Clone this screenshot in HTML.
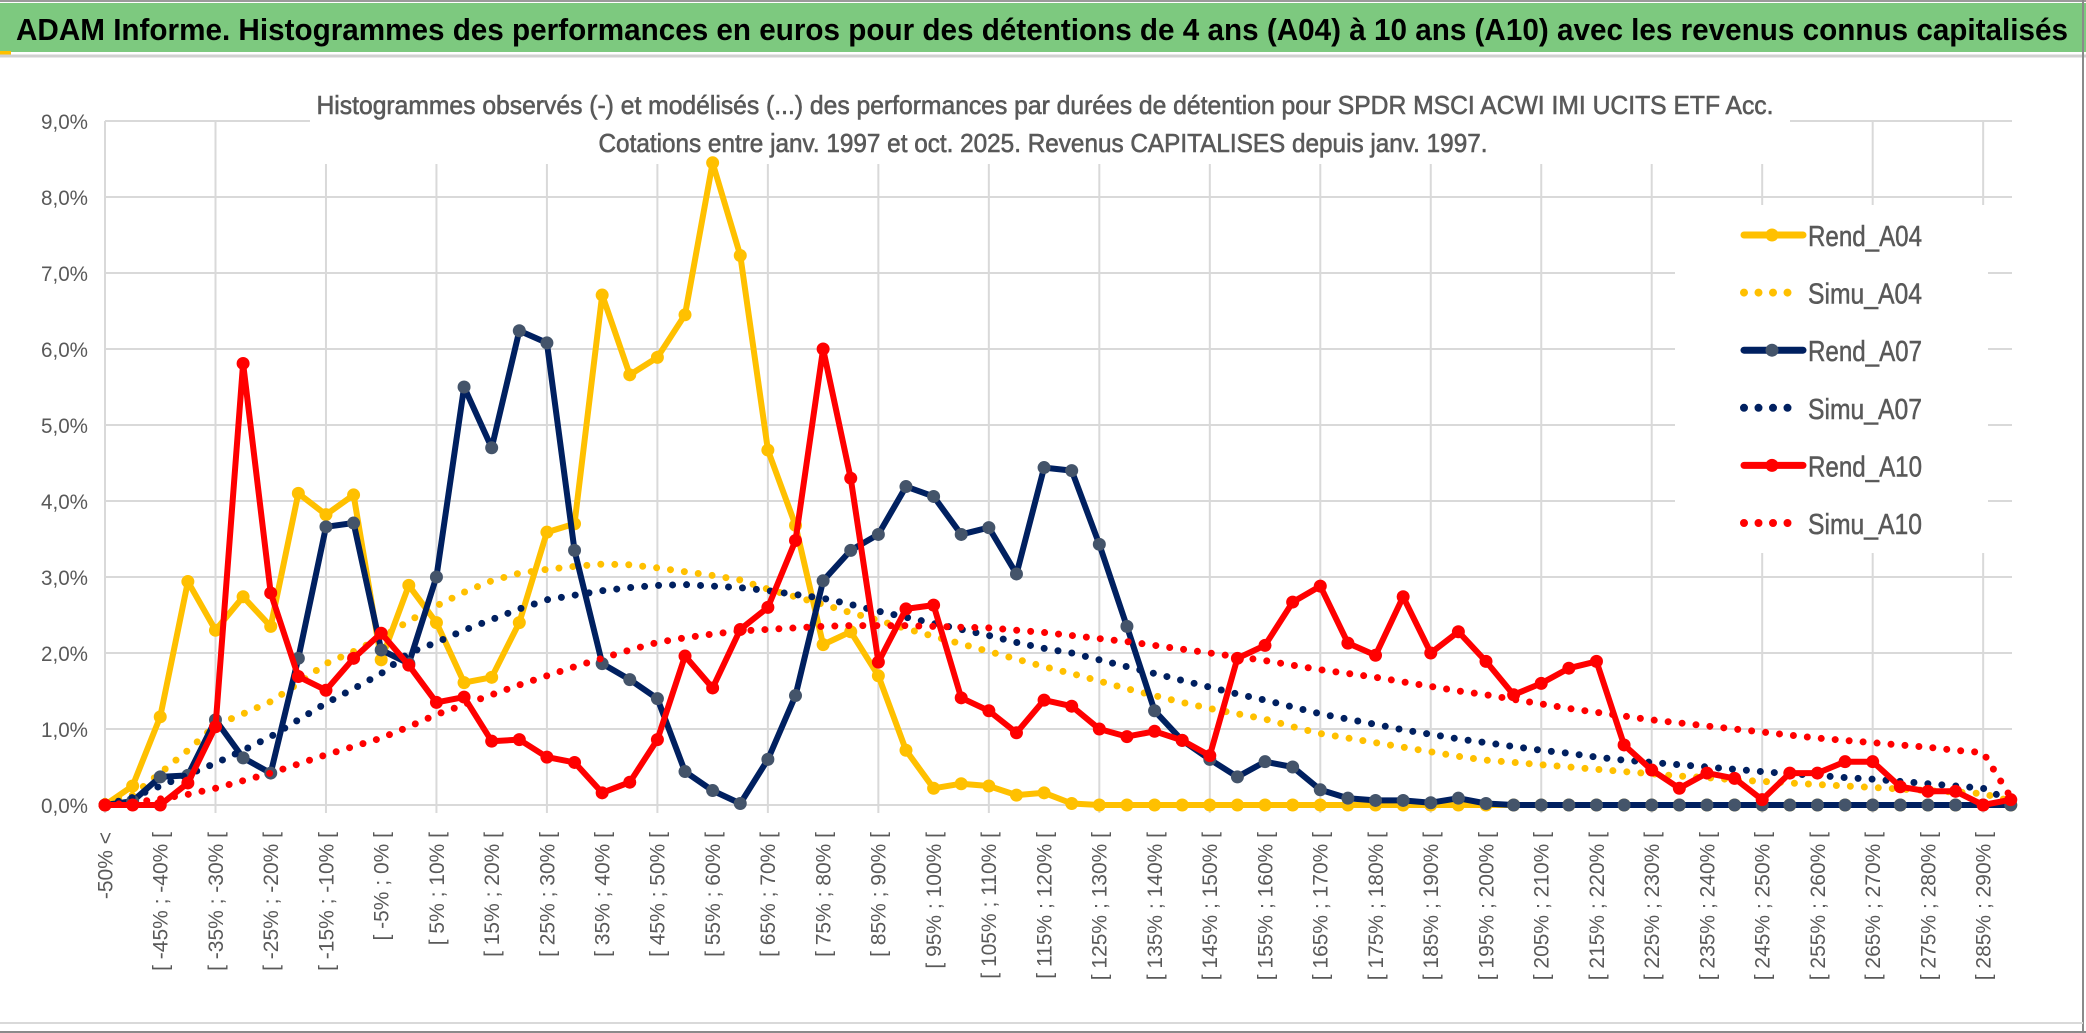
<!DOCTYPE html>
<html><head><meta charset="utf-8"><style>
html,body{margin:0;padding:0;background:#fff;}
svg{display:block;font-family:"Liberation Sans",sans-serif;}
</style></head><body>
<svg id="chart" width="2086" height="1033" viewBox="0 0 2086 1033" xmlns="http://www.w3.org/2000/svg">
  <rect x="0" y="0" width="2086" height="1033" fill="#fff"/>
  <line x1="0" y1="1" x2="2086" y2="1" stroke="#9a9a9a" stroke-width="2"/>
  <rect x="0" y="3" width="2086" height="49" fill="#7DC97F"/>
  <rect x="0" y="51" width="11" height="4" fill="#FFC000"/>
  <line x1="0" y1="56" x2="2086" y2="56" stroke="#d0d0d0" stroke-width="3"/>
  <text x="16" y="40" font-size="31" font-weight="bold" fill="#000" textLength="2052" lengthAdjust="spacingAndGlyphs">ADAM Informe. Histogrammes des performances en euros pour des détentions de 4 ans (A04) à 10 ans (A10) avec les revenus connus capitalisés</text>
  <line x1="2083" y1="0" x2="2083" y2="1033" stroke="#8a8a8a" stroke-width="2"/>
  <line x1="0" y1="1023" x2="2083" y2="1023" stroke="#d9d9d9" stroke-width="2"/>
  <line x1="0" y1="1032" x2="2086" y2="1032" stroke="#8a8a8a" stroke-width="2"/>
  <g id="grid"></g>
  <g id="yaxis"></g>
  <g id="xaxis"></g>
  <rect x="310" y="82" width="1480" height="82" fill="#fff"/>
  <text x="1045" y="114" font-size="26" fill="#595959" stroke="#595959" stroke-width="0.6" text-anchor="middle" textLength="1457" lengthAdjust="spacingAndGlyphs">Histogrammes observés (-) et modélisés (...) des performances par durées de détention pour SPDR MSCI ACWI IMI UCITS ETF Acc.</text>
  <text x="1043" y="152" font-size="26" fill="#595959" stroke="#595959" stroke-width="0.6" text-anchor="middle" textLength="889" lengthAdjust="spacingAndGlyphs">Cotations entre janv. 1997 et oct. 2025. Revenus CAPITALISES depuis janv. 1997.</text>
  <g id="series"></g>
  <g id="legend">
    <rect x="1675" y="205" width="313" height="348" fill="#fff"/>
  </g>
</svg>
<script>
const categories = ["-50% <"];
for (let k = 1; k < 70; k++) { categories.push("[ " + (-50 + 5 * (k - 1)) + "% ; " + (-45 + 5 * (k - 1)) + "% ["); }
const yTicks = [0,1,2,3,4,5,6,7,8,9];
const yTickLabels = ["0,0%","1,0%","2,0%","3,0%","4,0%","5,0%","6,0%","7,0%","8,0%","9,0%"];
const rendA04 = [0,0.25,1.16,2.94,2.30,2.74,2.35,4.10,3.82,4.08,1.91,2.89,2.40,1.61,1.68,2.40,3.59,3.70,6.71,5.66,5.89,6.45,8.45,7.23,4.67,3.68,2.11,2.28,1.70,0.72,0.22,0.28,0.25,0.13,0.16,0.02,0,0,0,0,0,0,0,0,0,0,0,0,0,0,0,0,0,0,0,0,0,0,0,0,0,0,0,0,0,0,0,0,0,0];
const simuA04 = [0.05,0.13,0.42,0.72,1.05,1.20,1.36,1.60,1.86,2.02,2.20,2.42,2.62,2.80,2.95,3.05,3.10,3.14,3.17,3.16,3.12,3.07,3.02,2.96,2.84,2.74,2.64,2.53,2.43,2.32,2.22,2.12,2.02,1.92,1.82,1.73,1.63,1.53,1.44,1.35,1.27,1.20,1.13,1.03,0.94,0.88,0.82,0.76,0.70,0.64,0.59,0.56,0.53,0.50,0.47,0.44,0.41,0.38,0.36,0.33,0.31,0.29,0.27,0.25,0.23,0.21,0.19,0.17,0.15,0.05];
const rendA07 = [0,0.05,0.37,0.39,1.12,0.62,0.42,1.93,3.66,3.71,2.04,1.86,3.00,5.50,4.70,6.24,6.08,3.35,1.86,1.65,1.40,0.44,0.19,0.02,0.60,1.44,2.95,3.35,3.56,4.19,4.06,3.56,3.65,3.04,4.44,4.40,3.43,2.35,1.24,0.85,0.60,0.37,0.57,0.50,0.20,0.09,0.06,0.06,0.03,0.09,0.02,0,0,0,0,0,0,0,0,0,0,0,0,0,0,0,0,0,0,0];
const simuA07 = [0,0.10,0.25,0.40,0.55,0.72,0.90,1.12,1.34,1.53,1.73,2.00,2.14,2.30,2.44,2.58,2.70,2.76,2.82,2.86,2.89,2.90,2.88,2.86,2.82,2.77,2.72,2.64,2.55,2.47,2.39,2.31,2.23,2.14,2.06,2.00,1.91,1.82,1.73,1.64,1.55,1.46,1.38,1.29,1.20,1.13,1.06,0.99,0.93,0.87,0.82,0.77,0.72,0.68,0.63,0.59,0.56,0.53,0.50,0.47,0.44,0.41,0.39,0.36,0.34,0.31,0.28,0.25,0.22,0.05];
const rendA10 = [0,0,0,0.29,1.03,5.81,2.79,1.69,1.51,1.93,2.26,1.84,1.35,1.42,0.84,0.86,0.63,0.56,0.16,0.30,0.86,1.96,1.54,2.31,2.60,3.48,6.00,4.30,1.88,2.58,2.63,1.41,1.24,0.95,1.38,1.30,1.00,0.90,0.97,0.85,0.65,1.93,2.10,2.67,2.88,2.13,1.97,2.74,2.00,2.28,1.89,1.45,1.60,1.80,1.89,0.79,0.46,0.22,0.42,0.35,0.07,0.42,0.42,0.57,0.57,0.24,0.18,0.18,0,0.07];
const simuA10 = [0,0.03,0.08,0.14,0.22,0.32,0.42,0.54,0.66,0.77,0.88,1.03,1.19,1.32,1.45,1.58,1.70,1.82,1.93,2.04,2.14,2.20,2.25,2.29,2.31,2.33,2.35,2.36,2.36,2.36,2.35,2.34,2.33,2.30,2.27,2.23,2.19,2.15,2.10,2.05,2.00,1.95,1.90,1.84,1.78,1.73,1.68,1.62,1.56,1.50,1.45,1.39,1.33,1.27,1.22,1.17,1.12,1.08,1.04,1.00,0.96,0.92,0.88,0.85,0.82,0.79,0.76,0.72,0.69,0.10];

const NS = "http://www.w3.org/2000/svg";
const X0 = 105, DX = 27.62, Y0 = 805, DY = 76;
function xPos(i) { return X0 + DX * i; }
function yPos(v) { return Y0 - DY * v; }
function mk(tag, attrs, parent) { const e = document.createElementNS(NS, tag); for (const k in attrs) e.setAttribute(k, attrs[k]); parent.appendChild(e); return e; }

const grid = document.getElementById("grid");
yTicks.forEach(function (t) {
  const l = mk("line", {x1: X0, x2: 2012, y1: yPos(t), y2: yPos(t), stroke: "#d9d9d9", "stroke-width": 2}, grid);
  
  
});
for (let i = 0; i < categories.length; i += 4) {
  const l = mk("line", {x1: xPos(i), x2: xPos(i), y1: yPos(9), y2: Y0 + 8, stroke: "#d9d9d9", "stroke-width": 2}, grid);
  
  
}
const yaxis = document.getElementById("yaxis");
yTicks.forEach(function (t, k) {
  const tx = mk("text", {x: 88, y: yPos(t) + 8, "font-size": 21, fill: "#595959", "text-anchor": "end", textLength: 47, lengthAdjust: "spacingAndGlyphs"}, yaxis);
  tx.textContent = yTickLabels[k];
  
  
});
const xaxis = document.getElementById("xaxis");
categories.forEach(function (c, i) {
  if (i % 2) return;
  const x = xPos(i), y = 832;
  const tx = mk("text", {x: x, y: y, dy: "0.35em", "font-size": 21, fill: "#595959", "text-anchor": "end", transform: "rotate(-90 " + x + " " + y + ")"}, xaxis);
  tx.textContent = c;
  
  
});

const seriesG = document.getElementById("series");
function pathFor(vals) { return vals.map(function (v, i) { return (i ? "L" : "M") + xPos(i).toFixed(1) + " " + yPos(v).toFixed(1); }).join(" "); }
function drawObserved(vals, color, markerFill, name) {
  const g = mk("g", {}, seriesG);
  
  
  const p = mk("path", {d: pathFor(vals), fill: "none", stroke: color, "stroke-width": 6, "stroke-linejoin": "round"}, g);
  
  
  vals.forEach(function (v, i) {
    const c = mk("circle", {cx: xPos(i), cy: yPos(v), r: 6.5, fill: markerFill}, g);
    
    
  });
}
function drawSim(vals, color, name) {
  const p = mk("path", {d: pathFor(vals), fill: "none", stroke: color, "stroke-width": 7, "stroke-linecap": "round", "stroke-dasharray": "0 14"}, seriesG);
  
  
}
drawObserved(rendA04, "#FFC000", "#FFC000", "rend-a04");
drawSim(simuA04, "#FFC000", "simu-a04");
drawObserved(rendA07, "#002060", "#44546A", "rend-a07");
drawSim(simuA07, "#002060", "simu-a07");
drawObserved(rendA10, "#FF0000", "#FF0000", "rend-a10");
drawSim(simuA10, "#FF0000", "simu-a10");

const legend = document.getElementById("legend");
const legendItems = [
  ["Rend_A04", "#FFC000", "#FFC000", false],
  ["Simu_A04", "#FFC000", null, true],
  ["Rend_A07", "#002060", "#44546A", false],
  ["Simu_A07", "#002060", null, true],
  ["Rend_A10", "#FF0000", "#FF0000", false],
  ["Simu_A10", "#FF0000", null, true]
];
legendItems.forEach(function (it, k) {
  const y = 235 + 57.6 * k;
  const g = mk("g", {}, legend);
  
  
  if (it[3]) {
    mk("line", {x1: 1744, x2: 1800, y1: y, y2: y, stroke: it[1], "stroke-width": 8, "stroke-linecap": "round", "stroke-dasharray": "0 14.5"}, g);
  } else {
    mk("line", {x1: 1744, x2: 1803, y1: y, y2: y, stroke: it[1], "stroke-width": 7, "stroke-linecap": "round"}, g);
    mk("circle", {cx: 1772, cy: y, r: 6.5, fill: it[2]}, g);
  }
  const tx = mk("text", {x: 1808, y: y + 11, "font-size": 29, fill: "#595959", stroke: "#595959", "stroke-width": 0.5, textLength: 114, lengthAdjust: "spacingAndGlyphs"}, g);
  tx.textContent = it[0];
});
</script>
</body></html>
